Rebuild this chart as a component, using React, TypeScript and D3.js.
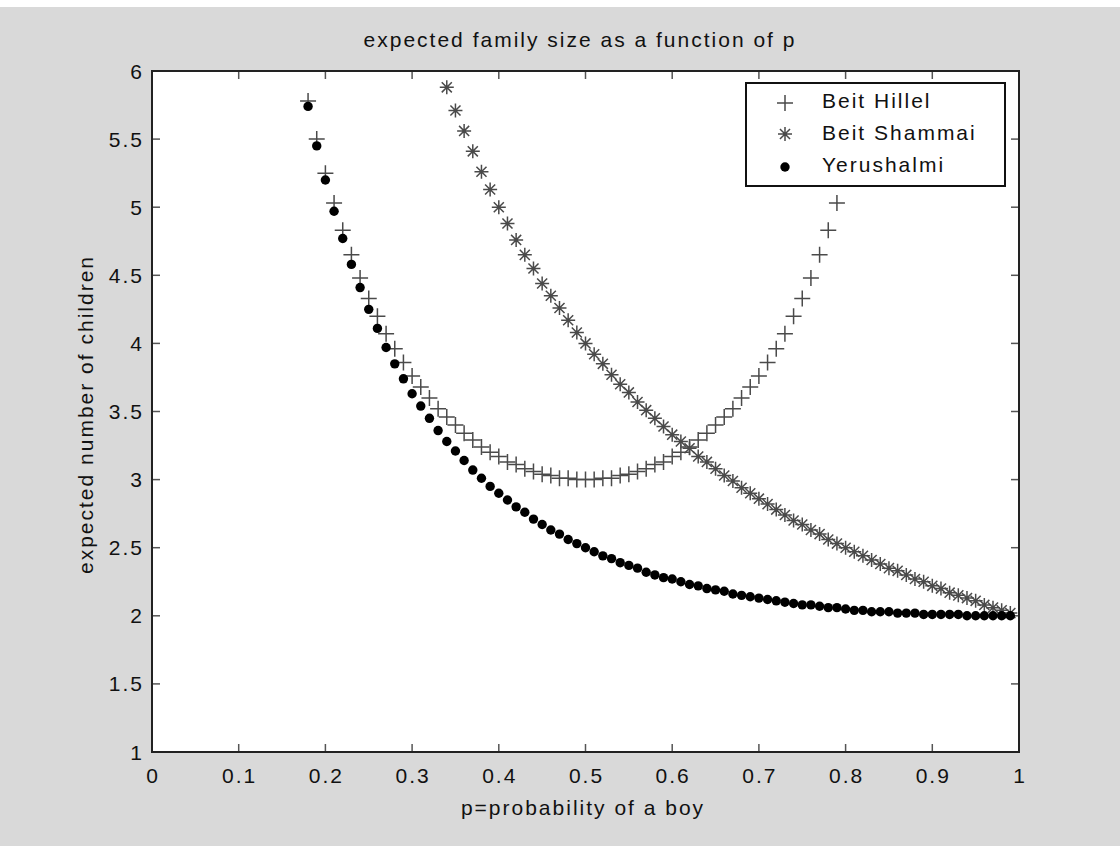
import React from "react";
import * as d3 from "d3";

// ---- data ----
const pHillel = [0.18,0.19,0.20,0.21,0.22,0.23,0.24,0.25,0.26,0.27,0.28,0.29,0.30,0.31,0.32,0.33,0.34,0.35,0.36,0.37,0.38,0.39,0.40,0.41,0.42,0.43,0.44,0.45,0.46,0.47,0.48,0.49,0.50,0.51,0.52,0.53,0.54,0.55,0.56,0.57,0.58,0.59,0.60,0.61,0.62,0.63,0.64,0.65,0.66,0.67,0.68,0.69,0.70,0.71,0.72,0.73,0.74,0.75,0.76,0.77,0.78,0.79,0.80,0.81,0.82];
const beitHillel = [5.78,5.50,5.25,5.03,4.83,4.65,4.48,4.33,4.20,4.07,3.96,3.86,3.76,3.68,3.60,3.52,3.46,3.40,3.34,3.29,3.24,3.20,3.17,3.13,3.11,3.08,3.06,3.04,3.03,3.01,3.01,3.00,3.00,3.00,3.01,3.01,3.03,3.04,3.06,3.08,3.11,3.13,3.17,3.20,3.24,3.29,3.34,3.40,3.46,3.52,3.60,3.68,3.76,3.86,3.96,4.07,4.20,4.33,4.48,4.65,4.83,5.03,5.25,5.50,5.78];

const pShammai = [0.34,0.35,0.36,0.37,0.38,0.39,0.40,0.41,0.42,0.43,0.44,0.45,0.46,0.47,0.48,0.49,0.50,0.51,0.52,0.53,0.54,0.55,0.56,0.57,0.58,0.59,0.60,0.61,0.62,0.63,0.64,0.65,0.66,0.67,0.68,0.69,0.70,0.71,0.72,0.73,0.74,0.75,0.76,0.77,0.78,0.79,0.80,0.81,0.82,0.83,0.84,0.85,0.86,0.87,0.88,0.89,0.90,0.91,0.92,0.93,0.94,0.95,0.96,0.97,0.98,0.99];
const beitShammai = [5.88,5.71,5.56,5.41,5.26,5.13,5.00,4.88,4.76,4.65,4.55,4.44,4.35,4.26,4.17,4.08,4.00,3.92,3.85,3.77,3.70,3.64,3.57,3.51,3.45,3.39,3.33,3.28,3.23,3.17,3.13,3.08,3.03,2.99,2.94,2.90,2.86,2.82,2.78,2.74,2.70,2.67,2.63,2.60,2.56,2.53,2.50,2.47,2.44,2.41,2.38,2.35,2.33,2.30,2.27,2.25,2.22,2.20,2.17,2.15,2.13,2.11,2.08,2.06,2.04,2.02];

const pYerushalmi = [0.18,0.19,0.20,0.21,0.22,0.23,0.24,0.25,0.26,0.27,0.28,0.29,0.30,0.31,0.32,0.33,0.34,0.35,0.36,0.37,0.38,0.39,0.40,0.41,0.42,0.43,0.44,0.45,0.46,0.47,0.48,0.49,0.50,0.51,0.52,0.53,0.54,0.55,0.56,0.57,0.58,0.59,0.60,0.61,0.62,0.63,0.64,0.65,0.66,0.67,0.68,0.69,0.70,0.71,0.72,0.73,0.74,0.75,0.76,0.77,0.78,0.79,0.80,0.81,0.82,0.83,0.84,0.85,0.86,0.87,0.88,0.89,0.90,0.91,0.92,0.93,0.94,0.95,0.96,0.97,0.98,0.99];
const yerushalmi = [5.74,5.45,5.20,4.97,4.77,4.58,4.41,4.25,4.11,3.97,3.85,3.74,3.63,3.54,3.45,3.36,3.28,3.21,3.14,3.07,3.01,2.95,2.90,2.85,2.80,2.76,2.71,2.67,2.63,2.60,2.56,2.53,2.50,2.47,2.44,2.42,2.39,2.37,2.35,2.32,2.30,2.28,2.27,2.25,2.23,2.22,2.20,2.19,2.18,2.16,2.15,2.14,2.13,2.12,2.11,2.10,2.09,2.08,2.08,2.07,2.06,2.06,2.05,2.04,2.04,2.03,2.03,2.03,2.02,2.02,2.02,2.01,2.01,2.01,2.01,2.01,2.00,2.00,2.00,2.00,2.00,2.00];

const xTicks = [0, 0.1, 0.2, 0.3, 0.4, 0.5, 0.6, 0.7, 0.8, 0.9, 1];
const yTicks = [1, 1.5, 2, 2.5, 3, 3.5, 4, 4.5, 5, 5.5, 6];
const legendLabels = ["Beit Hillel", "Beit Shammai", "Yerushalmi"];
const titleText = "expected family size as a function of p";
const xLabelText = "p=probability of a boy";
const yLabelText = "expected number of children";

// ---- layout ----
const W = 1120, H = 846;
const L = 152, R = 1019, T = 71, B = 752;
const FONT = "'Liberation Sans', Arial, Helvetica, sans-serif";
const FS = 21;
const LS = 2;

const plusPath = (s: number) => `M${-s},0H${s}M0,${-s}V${s}`;
const starPath = (s: number) => {
  const d = s * 0.72;
  return `M${-s},0H${s}M0,${-s}V${s}M${-d},${-d}L${d},${d}M${-d},${d}L${d},${-d}`;
};

export default function App() {
  const x = d3.scaleLinear().domain([0, 1]).range([L, R]);
  const y = d3.scaleLinear().domain([1, 6]).range([B, T]);
  const tickLen = 8;
  const markerColor = "#4a4a4a";

  const legX = 746, legY = 83, legW = 259, legH = 103;
  const rowY = [103, 134, 167];

  return (
    <svg width={W} height={H} style={{ position: "absolute", left: 0, top: 0 }}
      fontFamily={FONT} fontSize={FS} letterSpacing={LS}>
      <rect x={0} y={0} width={W} height={H} fill="#ffffff" />
      <rect x={0} y={7} width={W} height={H - 7} fill="#d9d9d9" />
      <defs>
        <clipPath id="plotClip">
          <rect x={L} y={T} width={R - L} height={B - T} />
        </clipPath>
      </defs>
      <rect x={L} y={T} width={R - L} height={B - T} fill="#ffffff" />

      {/* ticks */}
      <g stroke="#555" strokeWidth={1.5}>
        {xTicks.map((t) => (
          <g key={"xt" + t}>
            <line x1={x(t)} x2={x(t)} y1={B} y2={B - tickLen} />
            <line x1={x(t)} x2={x(t)} y1={T} y2={T + tickLen} />
          </g>
        ))}
        {yTicks.map((t) => (
          <g key={"yt" + t}>
            <line x1={L} x2={L + tickLen} y1={y(t)} y2={y(t)} />
            <line x1={R} x2={R - tickLen} y1={y(t)} y2={y(t)} />
          </g>
        ))}
      </g>

      {/* data */}
      <g clipPath="url(#plotClip)">
        <g stroke={markerColor} strokeWidth={1.5} fill="none">
          {pHillel.map((p, i) => (
            <path key={"h" + i} d={plusPath(8)} transform={`translate(${x(p)},${y(beitHillel[i])})`} />
          ))}
          {pShammai.map((p, i) => (
            <path key={"s" + i} d={starPath(7)} transform={`translate(${x(p)},${y(beitShammai[i])})`} />
          ))}
        </g>
        <g fill="#000">
          {pYerushalmi.map((p, i) => (
            <circle key={"y" + i} cx={x(p)} cy={y(yerushalmi[i])} r={4.7} />
          ))}
        </g>
      </g>

      {/* axes box */}
      <rect x={L} y={T} width={R - L} height={B - T} fill="none" stroke="#222" strokeWidth={2} />

      {/* tick labels */}
      <g fill="#111">
        {xTicks.map((t) => (
          <text key={"xl" + t} x={x(t) + LS / 2} y={783} textAnchor="middle">
            {d3.format("~g")(t)}
          </text>
        ))}
        {yTicks.map((t) => (
          <text key={"yl" + t} x={144} y={y(t) + 7.5} textAnchor="end">
            {d3.format("~g")(t)}
          </text>
        ))}
      </g>

      {/* title and axis labels */}
      <text x={580} y={47} textAnchor="middle" fill="#111">{titleText}</text>
      <text x={583} y={815} textAnchor="middle" fill="#111">{xLabelText}</text>
      <text transform={`translate(93,${(T + B) / 2 + 3}) rotate(-90)`} textAnchor="middle" fill="#111">
        {yLabelText}
      </text>

      {/* legend */}
      <rect x={legX} y={legY} width={legW} height={legH} fill="#ffffff" stroke="#111" strokeWidth={2} />
      <path d={plusPath(8)} transform={`translate(785,${rowY[0]})`} stroke={markerColor} strokeWidth={1.5} fill="none" />
      <path d={starPath(7)} transform={`translate(785,${rowY[1]})`} stroke={markerColor} strokeWidth={1.5} fill="none" />
      <circle cx={785} cy={rowY[2]} r={4.7} fill="#000" />
      {legendLabels.map((lab, i) => (
        <text key={lab} x={822} y={[108, 140, 172][i]} fill="#111">{lab}</text>
      ))}
    </svg>
  );
}
